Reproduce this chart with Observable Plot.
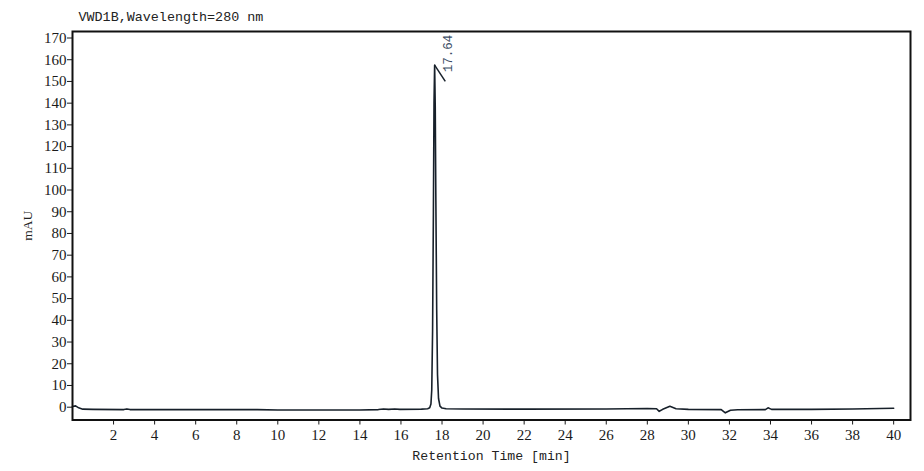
<!DOCTYPE html>
<html>
<head>
<meta charset="utf-8">
<script src="https://cdn.jsdelivr.net/npm/d3@7"></script>
<script src="https://cdn.jsdelivr.net/npm/@observablehq/plot@0.6"></script>
<style>
  html, body { margin: 0; padding: 0; background: #fff; }
  #chart { width: 924px; height: 471px; }
</style>
</head>
<body>
<div id="chart"></div>
<script>
// Retention time (min)
const times = [0, 0.15, 0.3, 0.5, 1, 2.5, 2.65, 2.8, 5, 9, 10, 14, 14.9, 15.15, 15.4, 15.7, 15.95, 17,
  17.3, 17.4, 17.46, 17.5, 17.54, 17.58, 17.61, 17.64, 17.67, 17.7, 17.74, 17.78, 17.83, 17.9, 18.0, 18.2,
  19, 22, 26, 28, 28.45, 28.58, 28.75, 29.1, 29.4, 30, 31.6, 31.8, 32.05, 32.4, 33.75, 33.88, 34.05, 36, 38, 40];
// Signal (mAU)
const signal = [0.3, 0.6, -0.3, -0.9, -1.0, -1.1, -0.8, -1.1, -1.1, -1.1, -1.3, -1.3, -1.1, -0.8, -1.0, -0.8, -1.0, -0.9,
  -0.7, -0.3, 1.5, 8, 35, 90, 140, 157.5, 138, 95, 45, 15, 4, 0.5, -0.4, -0.7,
  -0.8, -0.9, -0.8, -0.6, -0.7, -1.9, -1.0, 0.4, -0.7, -1.0, -1.1, -2.6, -1.4, -1.2, -1.1, -0.3, -1.0, -1.0, -0.8, -0.5];

// Peak annotation
const peakTimes = [17.64];
const peakHeights = [157.5];
const peakLabels = ["17.64"];

// Axis ticks
const xTicks = [2, 4, 6, 8, 10, 12, 14, 16, 18, 20, 22, 24, 26, 28, 30, 32, 34, 36, 38, 40];
const yTicks = [0, 10, 20, 30, 40, 50, 60, 70, 80, 90, 100, 110, 120, 130, 140, 150, 160, 170];

const titleText = "VWD1B,Wavelength=280 nm";
const xLabel = "Retention Time [min]";
const yLabel = "mAU";

const trace = times.map((t, i) => ({t, v: signal[i]}));
const peaks = peakTimes.map((t, i) => ({t, h: peakHeights[i], label: peakLabels[i]}));

const serif = "'Liberation Serif', 'DejaVu Serif', serif";
const mono = "'Liberation Mono', 'DejaVu Sans Mono', monospace";

const plot = Plot.plot({
  width: 924,
  height: 471,
  marginLeft: 72,
  marginRight: 14,
  marginTop: 31,
  marginBottom: 51.5,
  style: {fontFamily: serif, fontSize: "15px", color: "#1a1a1a", background: "#fff"},
  x: {domain: [0, 40.82], ticks: xTicks, label: null, tickSize: 5, tickPadding: 4},
  y: {domain: [-5.9, 173], ticks: yTicks, label: null, tickSize: 5, tickPadding: 1},
  marks: [
    Plot.line(trace, {x: "t", y: "v", stroke: "#17202a", strokeWidth: 1.6}),
    Plot.link(peaks, {x1: "t", y1: "h", x2: d => d.t + 0.52, y2: d => d.h - 7.5, stroke: "#17202a", strokeWidth: 1.5}),
    Plot.text(peaks, {x: "t", y: "h", text: "label", rotate: -90, textAnchor: "start", lineAnchor: "middle",
      dx: 13, dy: 7, fill: "#3d4f66", fontSize: 12.5, fontFamily: mono}),
    Plot.frame({stroke: "#111", strokeWidth: 2}),
    Plot.text([titleText], {frameAnchor: "top-left", text: d => d, textAnchor: "start", lineAnchor: "bottom",
      dx: 6, dy: -10.5, fontFamily: mono, fontSize: 13.4, fill: "#222"}),
    Plot.text([xLabel], {frameAnchor: "bottom", text: d => d, lineAnchor: "bottom", dy: 40,
      fontFamily: mono, fontSize: 13.2, fill: "#222"}),
    Plot.text([yLabel], {frameAnchor: "left", text: d => d, rotate: -90, lineAnchor: "middle", textAnchor: "middle", dx: -45,
      fontFamily: serif, fontSize: 13.5, fill: "#222"})
  ]
});
document.getElementById("chart").appendChild(plot);
</script>
</body>
</html>
